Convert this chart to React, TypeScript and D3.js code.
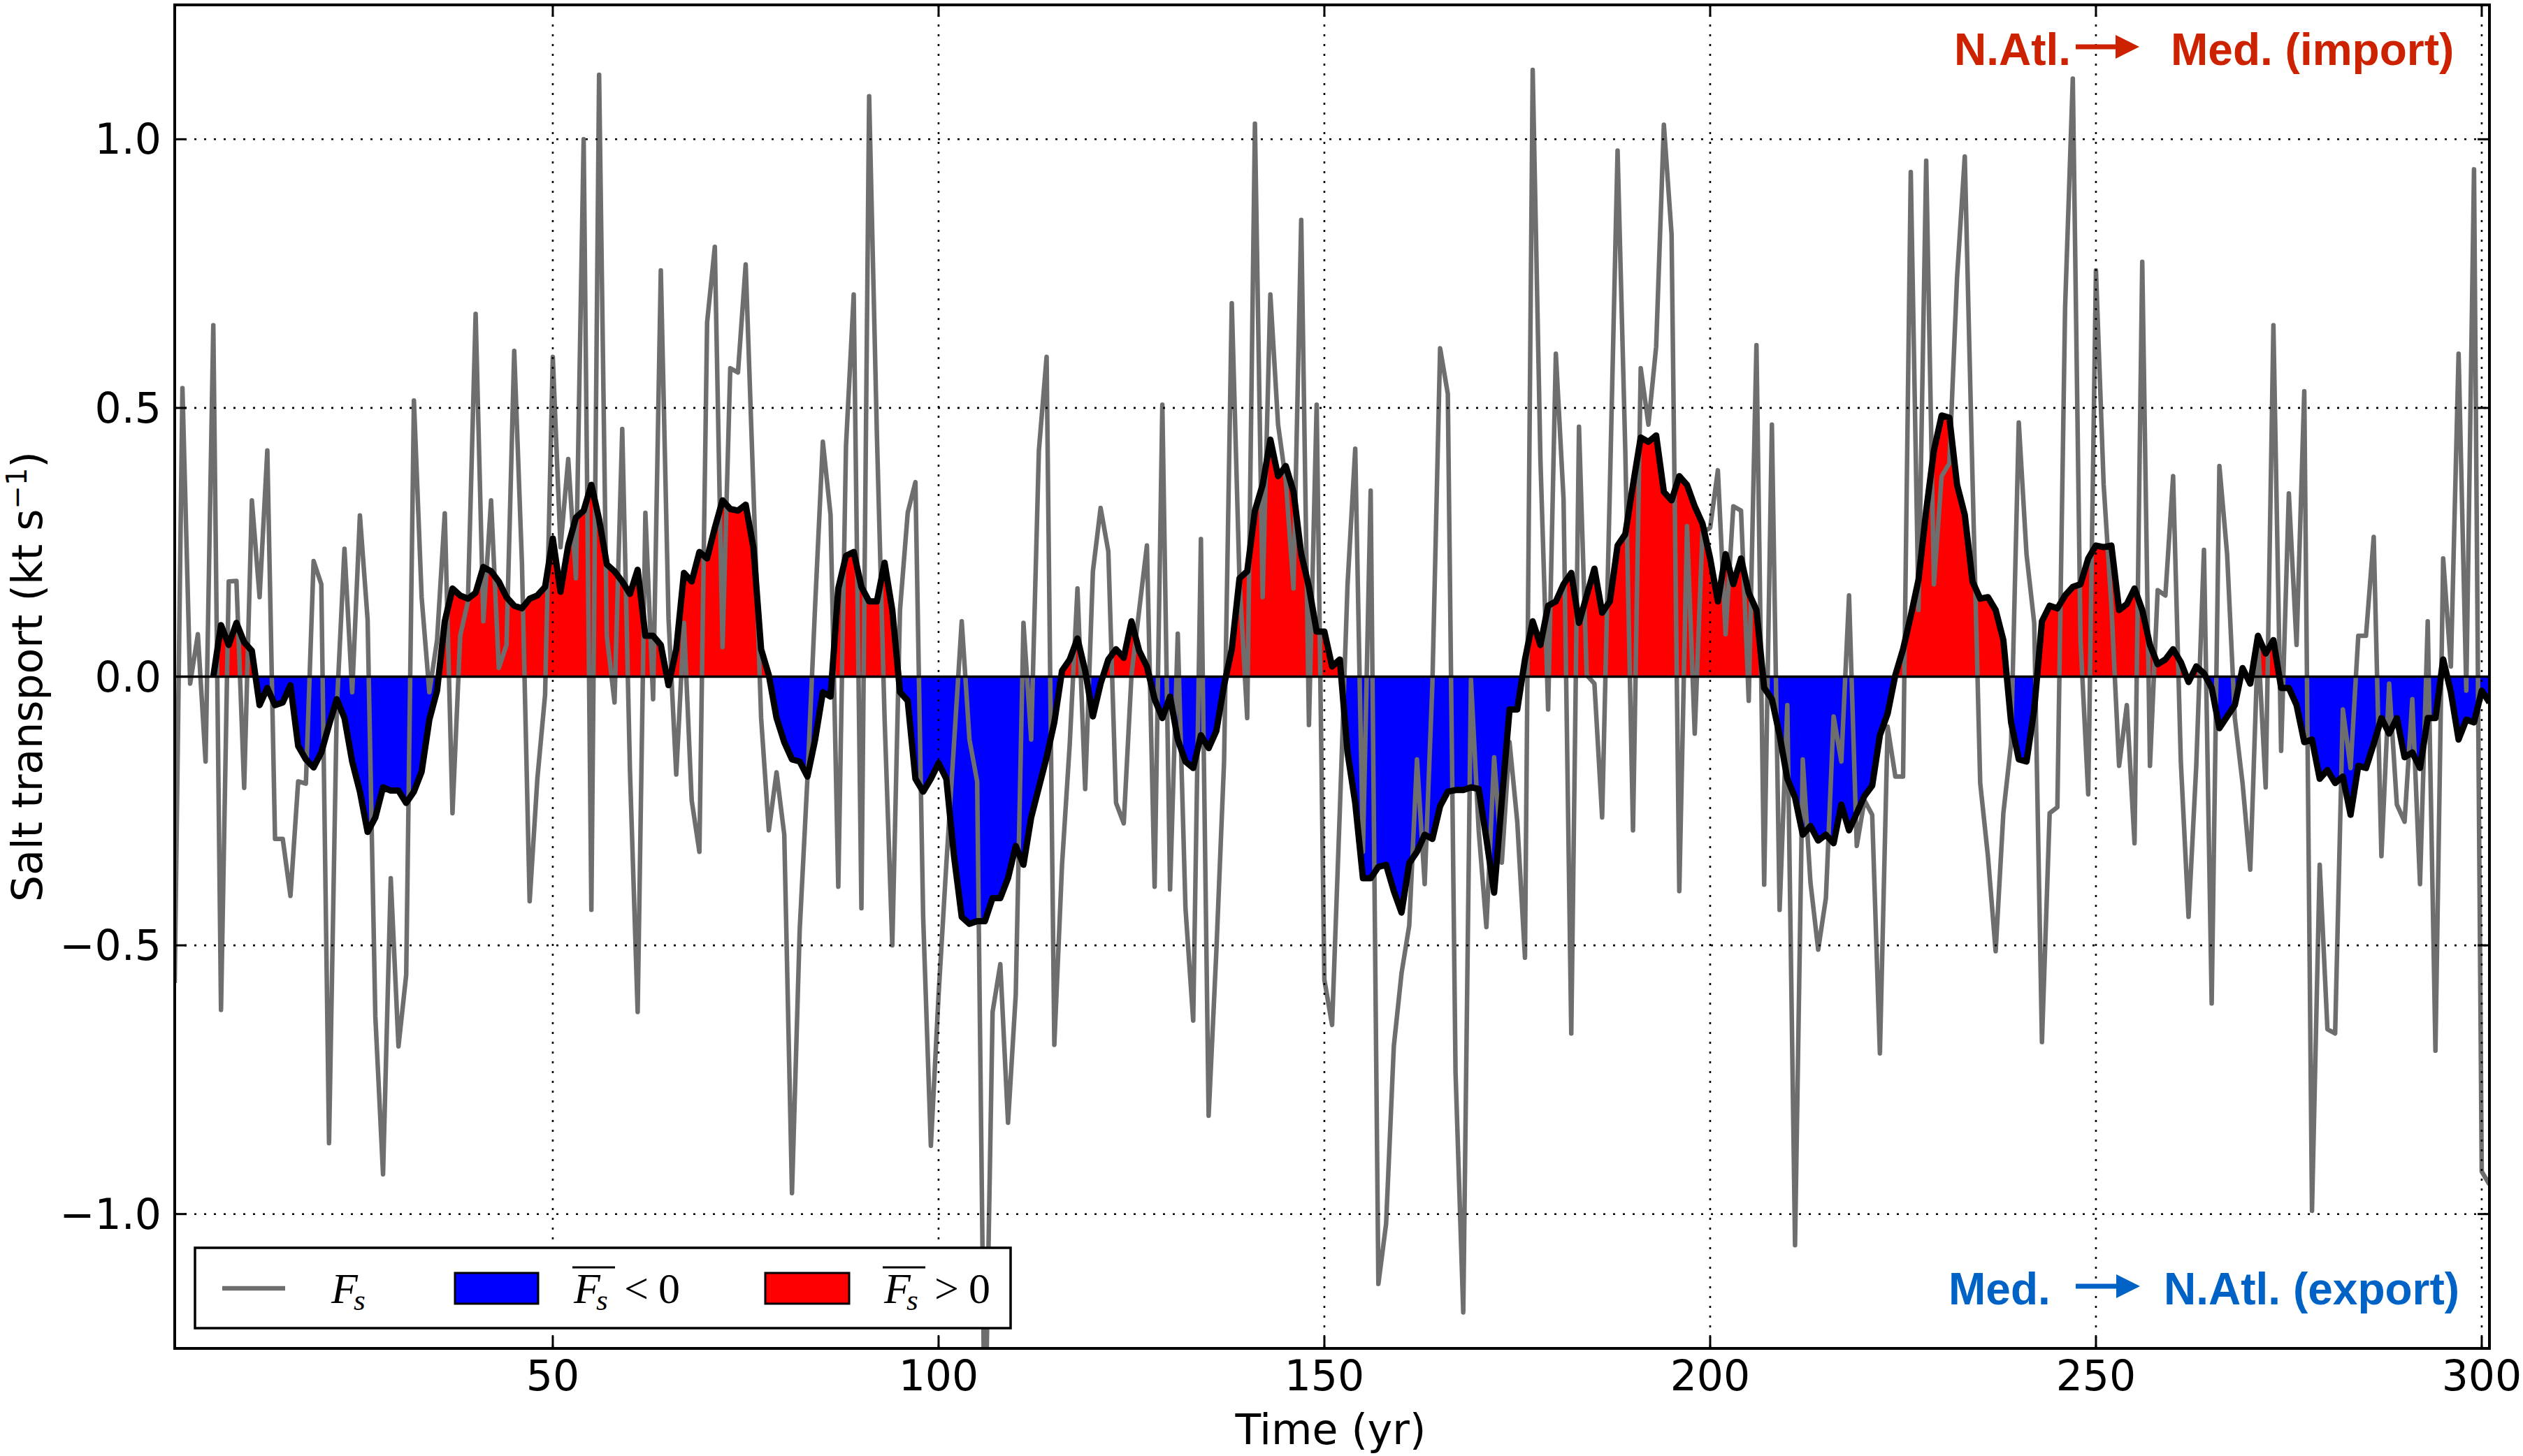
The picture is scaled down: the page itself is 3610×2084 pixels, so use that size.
import React from 'react';
import * as d3 from 'd3';

// annual salt transport F_s (kt/s), years 1..301
const fsAnnual: number[] = [
  -0.57, 0.537, -0.013, 0.079, -0.158, 0.654, -0.62, 0.177, 0.178, -0.207,
  0.328, 0.148, 0.421, -0.302, -0.302, -0.408, -0.195, -0.199, 0.215, 0.172,
  -0.868, -0.06, 0.238, -0.029, 0.3, 0.106, -0.632, -0.926, -0.375, -0.688,
  -0.555, 0.514, 0.148, -0.029, 0.068, 0.304, -0.254, 0.076, 0.14, 0.675,
  0.103, 0.328, 0.016, 0.059, 0.606, 0.212, -0.418, -0.19, -0.034, 0.595,
  0.241, 0.405, 0.183, 1.0, -0.434, 1.12, 0.076, -0.048, 0.461, -0.174,
  -0.624, 0.305, -0.042, 0.756, 0.108, -0.182, 0.1, -0.23, -0.326, 0.659,
  0.8, 0.055, 0.574, 0.566, 0.767, 0.349, -0.077, -0.286, -0.178, -0.294,
  -0.961, -0.471, -0.19, 0.132, 0.437, 0.301, -0.391, 0.429, 0.711, -0.431,
  1.08, 0.453, -0.077, -0.5, 0.124, 0.305, 0.362, -0.447, -0.873, -0.592,
  -0.35, -0.125, 0.103, -0.117, -0.195, -1.45, -0.624, -0.535, -0.83, -0.592,
  0.1, -0.117, 0.421, 0.595, -0.685, -0.35, -0.125, 0.164, -0.209, 0.196,
  0.314, 0.233, -0.235, -0.273, 0.003, 0.124, 0.244, -0.391, 0.506, -0.396,
  0.08, -0.431, -0.64, 0.256, -0.817, -0.511, -0.158, 0.695, 0.18, -0.077,
  1.029, 0.148, 0.711, 0.469, 0.365, 0.164, 0.85, -0.09, 0.506, -0.564,
  -0.648, -0.25, 0.17, 0.424, -0.326, 0.346, -1.13, -1.018, -0.688, -0.552,
  -0.463, -0.154, -0.386, -0.013, 0.611, 0.526, -0.736, -1.183, -0.005, -0.286,
  -0.466, -0.15, -0.346, -0.122, -0.27, -0.523, 1.129, 0.405, -0.061, 0.601,
  0.33, -0.664, 0.465, 0.003, -0.013, -0.262, 0.35, 0.979, 0.421, -0.286,
  0.574, 0.469, 0.614, 1.027, 0.823, -0.399, 0.28, -0.106, 0.268, 0.277,
  0.384, 0.079, 0.317, 0.309, -0.045, 0.617, -0.387, 0.469, -0.434, -0.053,
  -1.058, -0.154, -0.383, -0.508, -0.412, -0.074, -0.158, 0.151, -0.315, -0.23,
  -0.257, -0.701, -0.093, -0.186, -0.186, 0.939, 0.124, 0.96, 0.172, 0.373,
  0.397, 0.743, 0.968, 0.37, -0.198, -0.334, -0.511, -0.254, -0.125, 0.473,
  0.228, 0.1, -0.68, -0.254, -0.243, 0.686, 1.113, 0.068, -0.219, 0.756,
  0.357, 0.132, -0.166, -0.053, -0.31, 0.772, -0.166, 0.161, 0.151, 0.373,
  -0.158, -0.447, -0.166, 0.236, -0.608, 0.392, 0.228, -0.077, -0.198, -0.359,
  0.068, -0.206, 0.654, -0.138, 0.341, 0.059, 0.531, -0.994, -0.35, -0.656,
  -0.664, -0.061, -0.17, 0.076, 0.076, 0.26, -0.334, -0.013, -0.238, -0.27,
  -0.042, -0.386, 0.103, -0.696, 0.22, 0.019, 0.601, -0.026, 0.944, -0.921,
  -0.945,
];
const fsAnnualStart = 1;

// smoothed F_s, years 6..301
const fsSmooth: number[] = [
  0.0, 0.096, 0.059, 0.1, 0.064, 0.048, -0.053, -0.021, -0.053, -0.048,
  -0.016, -0.129, -0.154, -0.169, -0.141, -0.09, -0.042, -0.077, -0.158, -0.214,
  -0.289, -0.262, -0.206, -0.212, -0.212, -0.235, -0.214, -0.177, -0.08, -0.026,
  0.103, 0.164, 0.151, 0.145, 0.156, 0.204, 0.196, 0.177, 0.148, 0.132,
  0.127, 0.145, 0.151, 0.167, 0.257, 0.158, 0.244, 0.296, 0.309, 0.357,
  0.293, 0.209, 0.196, 0.177, 0.154, 0.199, 0.076, 0.076, 0.059, -0.016,
  0.051, 0.193, 0.177, 0.232, 0.22, 0.277, 0.328, 0.312, 0.309, 0.32,
  0.24, 0.051, 0.003, -0.077, -0.122, -0.154, -0.158, -0.186, -0.117, -0.029,
  -0.037, 0.164, 0.225, 0.232, 0.167, 0.14, 0.14, 0.212, 0.124, -0.029,
  -0.045, -0.19, -0.214, -0.19, -0.161, -0.19, -0.334, -0.447, -0.46, -0.455,
  -0.455, -0.412, -0.412, -0.375, -0.315, -0.35, -0.262, -0.206, -0.15, -0.085,
  0.011, 0.032, 0.071, 0.011, -0.074, -0.013, 0.032, 0.051, 0.035, 0.103,
  0.048, 0.019, -0.042, -0.077, -0.037, -0.117, -0.158, -0.17, -0.109, -0.133,
  -0.101, -0.016, 0.051, 0.183, 0.196, 0.309, 0.357, 0.441, 0.373, 0.392,
  0.344, 0.228, 0.167, 0.084, 0.084, 0.019, 0.032, -0.141, -0.235, -0.375,
  -0.375, -0.354, -0.35, -0.399, -0.439, -0.347, -0.326, -0.294, -0.302, -0.241,
  -0.214, -0.211, -0.211, -0.206, -0.209, -0.302, -0.402, -0.23, -0.061, -0.061,
  0.032, 0.103, 0.059, 0.132, 0.14, 0.172, 0.193, 0.1, 0.151, 0.201,
  0.119, 0.14, 0.244, 0.265, 0.357, 0.445, 0.437, 0.449, 0.344, 0.328,
  0.373, 0.357, 0.317, 0.285, 0.22, 0.14, 0.228, 0.172, 0.22, 0.156,
  0.124, -0.021, -0.042, -0.109, -0.19, -0.225, -0.294, -0.278, -0.305, -0.294,
  -0.31, -0.238, -0.286, -0.254, -0.222, -0.203, -0.109, -0.069, 0.003, 0.051,
  0.113, 0.18, 0.309, 0.421, 0.486, 0.482, 0.357, 0.301, 0.177, 0.145,
  0.148, 0.124, 0.068, -0.085, -0.154, -0.158, -0.061, 0.103, 0.132, 0.127,
  0.151, 0.167, 0.172, 0.22, 0.244, 0.241, 0.244, 0.124, 0.135, 0.164,
  0.124, 0.059, 0.023, 0.032, 0.051, 0.027, -0.01, 0.019, 0.006, -0.021,
  -0.096, -0.074, -0.053, 0.016, -0.013, 0.076, 0.043, 0.068, -0.021, -0.021,
  -0.053, -0.122, -0.117, -0.19, -0.174, -0.198, -0.186, -0.257, -0.166, -0.17,
  -0.125, -0.077, -0.106, -0.077, -0.15, -0.141, -0.17, -0.077, -0.077, 0.032,
  -0.029, -0.117, -0.08, -0.085, -0.026, -0.048,
];
const fsSmoothStart = 6;

const xTicks = [50, 100, 150, 200, 250, 300];
const yTicks = [-1.0, -0.5, 0.0, 0.5, 1.0];

const W = 3610;
const H = 2084;
const plot = { left: 250, right: 3562, top: 7, bottom: 1930 };

const GREY = '#6e6e6e';
const RED_TXT = '#cc2200';
const BLUE_TXT = '#0062c4';
const TICK_FONT = 'DejaVu Sans, sans-serif';
const MATH_FONT = 'Liberation Serif, DejaVu Serif, serif';

type Pt = { t: number; v: number };

// add zero crossings so the two fills meet cleanly at y = 0
function withCrossings(pts: Pt[]): Pt[] {
  const out: Pt[] = [];
  pts.forEach((p, i) => {
    if (i > 0) {
      const q = pts[i - 1];
      if ((q.v < 0 && p.v > 0) || (q.v > 0 && p.v < 0)) {
        const f = q.v / (q.v - p.v);
        out.push({ t: q.t + f * (p.t - q.t), v: 0 });
      }
    }
    out.push(p);
  });
  return out;
}

const fmt = (v: number) => d3.format('.1f')(v).replace('-', '\u2212');

const Legend: React.FC = () => {
  const box = { x: 279, y: 1786, w: 1167, h: 115 };
  const base = 1865;
  const patchY = 1822;
  const mathLabel = (x: number, bar: boolean, rel?: string) => (
    <g>
      {bar && <line x1={x - 2} x2={x + 59} y1={1814} y2={1814} stroke="#000" strokeWidth={3} />}
      <text x={x} y={base} fontFamily={MATH_FONT} fontSize={62} fontStyle="italic">
        F
        <tspan dx={-6} dy={10} fontSize={43}>s</tspan>
      </text>
      {rel && (
        <text x={x + 72} y={base} fontFamily={MATH_FONT} fontSize={62}>
          {rel}
          <tspan dx={14}>0</tspan>
        </text>
      )}
    </g>
  );
  return (
    <g>
      <rect x={box.x} y={box.y} width={box.w} height={box.h} fill="#fff" stroke="#000" strokeWidth={3.5} />
      <line x1={318} x2={408} y1={1844} y2={1844} stroke={GREY} strokeWidth={6.5} />
      {mathLabel(474, false)}
      <rect x={651} y={patchY} width={119} height={44} fill="#0000ff" stroke="#000" strokeWidth={3} />
      {mathLabel(821, true, '<')}
      <rect x={1095} y={patchY} width={120} height={44} fill="#ff0000" stroke="#000" strokeWidth={3} />
      {mathLabel(1265, true, '>')}
    </g>
  );
};

const Arrow: React.FC<{ x0: number; x1: number; y: number; color: string }> = ({ x0, x1, y, color }) => (
  <g>
    <line x1={x0} x2={x1 - 30} y1={y} y2={y} stroke={color} strokeWidth={7} />
    <path d={`M${x1 - 34},${y - 17} L${x1},${y} L${x1 - 34},${y + 17} Z`} fill={color} />
  </g>
);

export default function App() {
  const x = d3.scaleLinear().domain([1, 301]).range([plot.left, plot.right]);
  const y = d3.scaleLinear().domain([-1.25, 1.25]).range([plot.bottom, plot.top]);

  const annual: Pt[] = fsAnnual.map((v, i) => ({ t: fsAnnualStart + i, v }));
  const smooth: Pt[] = fsSmooth.map((v, i) => ({ t: fsSmoothStart + i, v }));
  const smoothX = withCrossings(smooth);

  const line = d3.line<Pt>().x(d => x(d.t)).y(d => y(d.v));
  const posArea = d3.area<Pt>().x(d => x(d.t)).y0(y(0)).y1(d => y(Math.max(0, d.v)));
  const negArea = d3.area<Pt>().x(d => x(d.t)).y0(y(0)).y1(d => y(Math.min(0, d.v)));

  const tickLen = 17;

  return (
    <div style={{ position: 'absolute', left: 0, top: 0 }}>
      <svg width={W} height={H} viewBox={`0 0 ${W} ${H}`} style={{ display: 'block', background: '#fff' }}>
        <defs>
          <clipPath id="plotClip">
            <rect x={plot.left} y={plot.top} width={plot.right - plot.left} height={plot.bottom - plot.top} />
          </clipPath>
        </defs>
        <rect width={W} height={H} fill="#fff" />

        <g clipPath="url(#plotClip)">
          <path d={posArea(smoothX) ?? ''} fill="#ff0000" />
          <path d={negArea(smoothX) ?? ''} fill="#0000ff" />
          <path d={line(annual) ?? ''} fill="none" stroke={GREY} strokeWidth={6.5} strokeLinejoin="round" />
          <path d={line(smooth) ?? ''} fill="none" stroke="#000" strokeWidth={9} strokeLinejoin="round" />
          <line x1={plot.left} x2={plot.right} y1={y(0)} y2={y(0)} stroke="#000" strokeWidth={3.5} />

          {/* dotted grid */}
          {xTicks.map(t => (
            <line key={`gx${t}`} x1={x(t)} x2={x(t)} y1={plot.top} y2={plot.bottom}
              stroke="#000" strokeWidth={2.6} strokeDasharray="3 11" />
          ))}
          {yTicks.map(t => (
            <line key={`gy${t}`} x1={plot.left} x2={plot.right} y1={y(t)} y2={y(t)}
              stroke="#000" strokeWidth={2.6} strokeDasharray="3 11" />
          ))}
        </g>

        {/* ticks, inward on all four sides */}
        {xTicks.map(t => (
          <g key={`tx${t}`} stroke="#000" strokeWidth={3}>
            <line x1={x(t)} x2={x(t)} y1={plot.bottom} y2={plot.bottom - tickLen} />
            <line x1={x(t)} x2={x(t)} y1={plot.top} y2={plot.top + tickLen} />
          </g>
        ))}
        {yTicks.map(t => (
          <g key={`ty${t}`} stroke="#000" strokeWidth={3}>
            <line x1={plot.left} x2={plot.left + tickLen} y1={y(t)} y2={y(t)} />
            <line x1={plot.right} x2={plot.right - tickLen} y1={y(t)} y2={y(t)} />
          </g>
        ))}

        <rect x={plot.left} y={plot.top} width={plot.right - plot.left} height={plot.bottom - plot.top}
          fill="none" stroke="#000" strokeWidth={4} />

        {/* tick labels */}
        {xTicks.map(t => (
          <text key={`lx${t}`} x={x(t)} y={1990} textAnchor="middle" fontFamily={TICK_FONT} fontSize={60}>{t}</text>
        ))}
        {yTicks.map(t => (
          <text key={`ly${t}`} x={231} y={y(t)} textAnchor="end" dominantBaseline="central"
            fontFamily={TICK_FONT} fontSize={60}>{fmt(t)}</text>
        ))}

        {/* axis labels */}
        <text x={1904} y={2067} textAnchor="middle" fontFamily={TICK_FONT} fontSize={60}>Time (yr)</text>
        <text transform={`translate(60, ${(plot.top + plot.bottom) / 2}) rotate(-90)`} textAnchor="middle"
          fontFamily={TICK_FONT} fontSize={60}>
          Salt transport (kt s
          <tspan dy={-22} fontSize={40}>{'\u22121'}</tspan>
          <tspan dy={22}>)</tspan>
        </text>

        {/* direction annotations */}
        <g fontFamily="Liberation Sans, Arial, sans-serif" fontWeight="bold" fontSize={64}>
          <text x={2796} y={93} fill={RED_TXT}>N.Atl.</text>
          <text x={3106} y={93} fill={RED_TXT}>Med. (import)</text>
          <text x={2788} y={1867} fill={BLUE_TXT}>Med.</text>
          <text x={3096} y={1867} fill={BLUE_TXT}>N.Atl. (export)</text>
        </g>
        <Arrow x0={2970} x1={3061} y={67} color={RED_TXT} />
        <Arrow x0={2970} x1={3062} y={1841} color={BLUE_TXT} />

        <Legend />
      </svg>
    </div>
  );
}
